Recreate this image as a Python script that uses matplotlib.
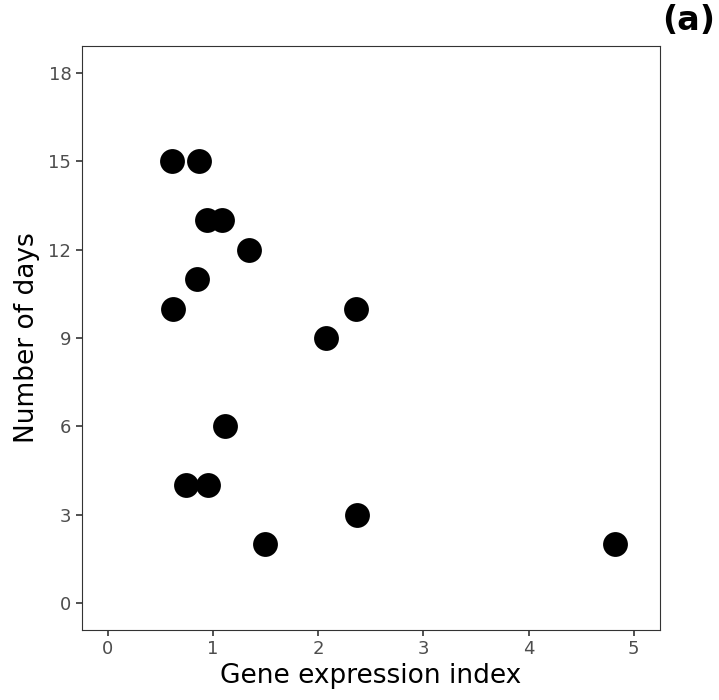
import matplotlib
matplotlib.use("Agg")
import matplotlib.pyplot as plt

gene_expression = [0.61, 0.87, 0.94, 1.08, 1.34, 0.85, 0.62, 2.36, 2.07, 1.11, 0.74, 0.95, 2.37, 1.49, 4.82]
num_days = [15, 15, 13, 13, 12, 11, 10, 10, 9, 6, 4, 4, 3, 2, 2]
x_ticks = [0, 1, 2, 3, 4, 5]
y_ticks = [0, 3, 6, 9, 12, 15, 18]

fig = plt.figure(figsize=(7.19, 7.0), dpi=100)
ax = fig.add_axes([81.7/719, 70/700, (660-81.7)/719, (630-46)/700])
ax.scatter(gene_expression, num_days, s=320, color="black", zorder=3, linewidths=0)
ax.set_xlim(-0.25, 5.25)
ax.set_ylim(-0.9, 18.9)
ax.set_xticks(x_ticks)
ax.set_yticks(y_ticks)
for s in ax.spines.values():
    s.set_color("#333333")
    s.set_linewidth(0.8)
ax.tick_params(colors="#333333", labelcolor="#4D4D4D", labelsize=13, length=4, width=1.2)
ax.set_xlabel("Gene expression index", fontsize=19, color="black", labelpad=3)
ax.set_ylabel("Number of days", fontsize=19, color="black", labelpad=6)
fig.text(0.995, 0.995, "(a)", ha="right", va="top", fontsize=24, fontweight="bold")
fig.savefig("out.png", dpi=100, facecolor="white")
